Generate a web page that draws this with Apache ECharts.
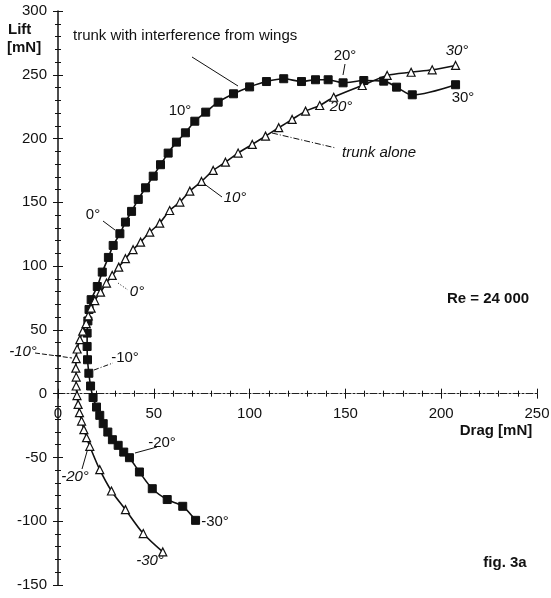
<!DOCTYPE html>
<html>
<head>
<meta charset="UTF-8">
<title>fig. 3a</title>
<script src="https://cdn.jsdelivr.net/npm/echarts@6/dist/echarts.min.js"></script>
<style>
	html, body { margin: 0; padding: 0; background: #fff; }
	#chart { width: 551px; height: 598px; }
</style>
</head>
<body>
<div id="chart"></div>
<script>
	// trunk with interference from wings (filled squares), values in mN
	var wingsDrag = [71.8, 65.1, 57.0, 49.2, 42.5, 37.3, 34.3, 31.4, 28.4, 26.0, 23.6, 21.8, 20.1, 18.3, 17.0, 16.1, 15.4, 15.2, 15.2, 15.6, 16.2, 17.3, 20.5, 23.1, 26.3, 28.8, 32.3, 35.2, 38.4, 41.9, 45.7, 49.7, 53.5, 57.5, 61.8, 66.5, 71.4, 77.1, 83.6, 91.6, 100.0, 108.8, 117.8, 127.1, 134.4, 141.0, 148.8, 159.6, 170.0, 176.7, 184.9, 207.5];
	var wingsLift = [-99.3, -88.3, -83.0, -74.5, -61.4, -50.2, -45.8, -40.5, -36.1, -30.1, -23.5, -17.0, -10.5, -3.0, 6.0, 16.0, 26.6, 37.0, 47.5, 57.0, 66.0, 73.7, 84.0, 95.3, 106.8, 116.2, 125.4, 134.5, 142.9, 152.3, 161.4, 170.5, 179.5, 188.6, 197.2, 204.5, 213.6, 220.7, 228.5, 235.1, 240.5, 244.7, 246.9, 244.7, 246.1, 246.1, 243.7, 245.5, 245.0, 240.3, 234.3, 242.2];

	// trunk alone (open triangles)
	var aloneDrag = [54.7, 44.5, 35.2, 27.9, 21.8, 16.6, 14.9, 13.5, 12.3, 11.2, 10.5, 9.9, 9.5, 9.5, 9.3, 9.5, 10.0, 11.4, 12.9, 14.7, 15.8, 17.3, 19.2, 22.2, 25.3, 28.3, 31.7, 35.2, 39.2, 43.1, 47.9, 53.1, 58.3, 63.6, 68.8, 74.9, 81.0, 87.4, 94.0, 101.4, 108.3, 115.2, 122.2, 129.2, 136.6, 143.9, 158.8, 171.8, 184.3, 195.3, 207.5];
	var aloneLift = [-124.1, -109.7, -90.9, -76.3, -59.6, -41.3, -34.5, -28.2, -21.5, -14.9, -8.4, -1.5, 6.0, 13.0, 20.0, 27.4, 35.0, 42.3, 49.0, 55.0, 61.0, 67.0, 73.0, 79.6, 86.7, 92.7, 99.2, 105.8, 112.9, 118.8, 126.6, 133.7, 143.6, 150.2, 158.8, 166.4, 175.0, 181.5, 188.6, 195.4, 201.9, 208.5, 215.0, 221.5, 225.9, 232.4, 241.6, 249.5, 252.0, 253.9, 257.3];

	// axis ranges
	var dragRange = [0, 250];
	var liftRange = [-150, 300];
	var tickStep = 50;

	function zip(a, b) {
		var out = [];
		for (var i = 0; i < a.length; i++) out.push([a[i], b[i]]);
		return out;
	}

	var FONT = '"Liberation Sans", Arial, sans-serif';
	function txt(s, x, y, style, align) {
		return {
			type: 'text', x: x, y: y, silent: true,
			style: { text: s, fill: '#111', align: align || 'center', verticalAlign: 'middle', font: (style || '') + ' 15px ' + FONT }
		};
	}
	function lead(x1, y1, x2, y2, dash) {
		return {
			type: 'line', silent: true,
			shape: { x1: x1, y1: y1, x2: x2, y2: y2 },
			style: { stroke: '#111', lineWidth: 1, lineDash: dash || null }
		};
	}

	// annotations (page pixels)
	var notes = [
		txt('Lift', 8, 30, 'bold', 'left'),
		txt('[mN]', 7, 48, 'bold', 'left'),
		txt('trunk with interference from wings', 73, 36, '', 'left'),
		lead(192, 57, 238, 86),
		txt('10°', 180, 111),
		txt('0°', 93, 215), lead(103, 221, 115, 230),
		txt('10°', 235, 198, 'italic'), lead(203, 183, 222, 197),
		txt('0°', 137, 292, 'italic'), lead(118, 283, 128, 290, [1, 2]),
		txt('20°', 345, 56), lead(345, 64, 343, 75),
		txt('30°', 457, 51, 'italic'),
		txt('30°', 463, 98),
		txt('20°', 341, 107, 'italic'),
		txt('trunk alone', 342, 153, 'italic', 'left'), lead(272, 133, 336, 148, [6, 2, 1, 2]),
		txt('Re = 24 000', 488, 299, 'bold'),
		txt('-10°', 23, 352, 'italic'), lead(35, 353, 72, 358, [5, 2]),
		txt('-10°', 125, 358), lead(94, 370, 113, 363, [5, 2, 1, 2]),
		txt('-20°', 162, 443), lead(135, 453, 157, 447),
		txt('-20°', 75, 477, 'italic'), lead(88, 448, 82, 469),
		txt('-30°', 215, 522),
		txt('-30°', 150, 561, 'italic'),
		txt('Drag [mN]', 496, 431, 'bold'),
		txt('fig. 3a', 505, 563, 'bold')
	];

	var gridTop = 11, gridH = 574;
	// x axis is drawn on the lift = 0 line
	var zeroShift = -gridH * (0 - liftRange[0]) / (liftRange[1] - liftRange[0]);

	function valueAxis(range, second) {
		return {
			type: 'value', min: range[0], max: range[1], interval: tickStep,
			splitLine: { show: false },
			axisLine: { show: !second, onZero: false, lineStyle: { color: '#111', width: 1.5 } },
			axisTick: { show: true, inside: !!second, length: 5, lineStyle: { color: '#111', width: 1 } },
			minorTick: { show: true, splitNumber: 5, length: 3, lineStyle: { color: '#111', width: 1 } },
			axisLabel: { show: !second, color: '#111', fontSize: 15, fontFamily: FONT }
		};
	}

	var xMain = valueAxis(dragRange, false);
	xMain.position = 'bottom';
	xMain.offset = zeroShift;
	xMain.axisLine.lineStyle = { color: '#222', width: 1, type: [7, 2, 2, 2] };
	xMain.axisLabel.margin = 13;
	var xInner = valueAxis(dragRange, true);
	xInner.position = 'bottom';
	xInner.offset = zeroShift;
	var yMain = valueAxis(liftRange, false);
	yMain.position = 'left';
	yMain.axisLabel.margin = 11;
	var yInner = valueAxis(liftRange, true);
	yInner.position = 'left';

	var chart = echarts.init(document.getElementById('chart'));
	chart.setOption({
		animation: false,
		backgroundColor: '#fff',
		grid: { left: 58, top: gridTop, width: 479, height: gridH, containLabel: false, outerBoundsMode: 'none' },
		xAxis: [xMain, xInner],
		yAxis: [yMain, yInner],
		series: [{
			name: 'trunk with interference from wings',
			type: 'line', smooth: 0.3,
			data: zip(wingsDrag, wingsLift),
			symbol: 'rect', symbolSize: 8,
			lineStyle: { color: '#111', width: 1.6 },
			itemStyle: { color: '#111', borderColor: '#111' }
		}, {
			name: 'trunk alone',
			type: 'line', smooth: 0.3,
			data: zip(aloneDrag, aloneLift),
			symbol: 'triangle', symbolSize: 8,
			lineStyle: { color: '#111', width: 1.6 },
			itemStyle: { color: '#fff', borderColor: '#111', borderWidth: 1.2 }
		}],
		graphic: notes
	});
</script>
</body>
</html>
